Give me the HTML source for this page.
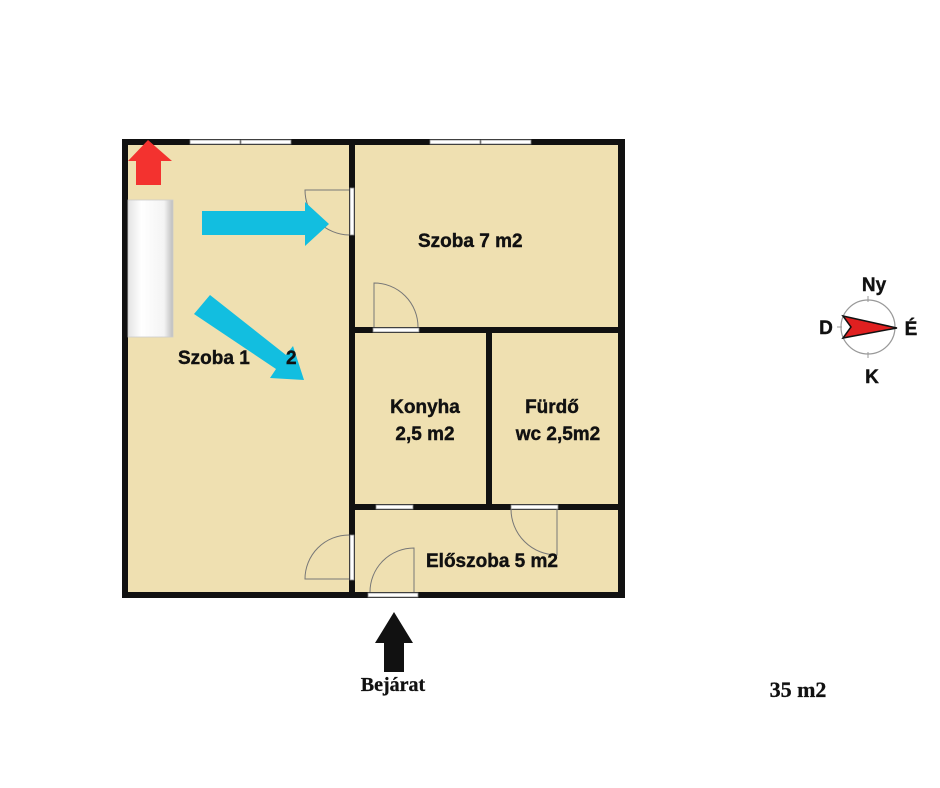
<!DOCTYPE html>
<html><head><meta charset="utf-8"><style>
html,body{margin:0;padding:0;background:#fff;}
svg{display:block;}
.t{font-family:"Liberation Sans",sans-serif;font-weight:bold;fill:#111;stroke:#111;stroke-width:0.4;}
.s{font-family:"Liberation Serif",serif;font-weight:bold;fill:#111;stroke:#111;stroke-width:0.3;}
</style></head><body>
<svg width="940" height="788" viewBox="0 0 940 788" xmlns="http://www.w3.org/2000/svg">
<defs>
<linearGradient id="rad" x1="0" x2="1" y1="0" y2="0">
<stop offset="0" stop-color="#e4e4e4"/><stop offset="0.3" stop-color="#ffffff"/><stop offset="0.8" stop-color="#f4f4f4"/><stop offset="1" stop-color="#bdbdbd"/>
</linearGradient>
</defs>
<rect x="122" y="139" width="502" height="459" fill="#efe0b1"/>
<g fill="#111">
<rect x="122" y="139" width="502" height="6"/>
<rect x="122" y="139" width="6" height="459"/>
<rect x="618" y="139" width="7" height="459"/>
<rect x="122" y="592" width="503" height="6"/>
<rect x="349" y="139" width="6" height="459"/>
<rect x="349" y="327" width="276" height="6"/>
<rect x="486" y="327" width="6" height="183"/>
<rect x="349" y="504" width="276" height="6"/>
</g>
<g fill="#fff" stroke="#888" stroke-width="0.8">
<rect x="190" y="140" width="50" height="4"/>
<rect x="241" y="140" width="50" height="4"/>
<rect x="430" y="140" width="50" height="4"/>
<rect x="481" y="140" width="50" height="4"/>
<rect x="350" y="188" width="4" height="47"/>
<rect x="373" y="328" width="46" height="4"/>
<rect x="376" y="505" width="37" height="4"/>
<rect x="511" y="505" width="47" height="4"/>
<rect x="350" y="535" width="4" height="45"/>
<rect x="368" y="593" width="50" height="4"/>
</g>
<g fill="none" stroke="#777" stroke-width="1">
<path d="M349 190 H305 A45 45 0 0 0 349 235"/>
<path d="M374 327 V283 A44 44 0 0 1 418 327"/>
<path d="M557 509 V555 A46 46 0 0 1 511 509"/>
<path d="M349 535 A44 44 0 0 0 305 579 H349"/>
<path d="M370 592 A44 44 0 0 1 414 548 V592"/>
</g>
<rect x="128" y="200" width="45" height="137" fill="url(#rad)" stroke="#ccc" stroke-width="0.8"/>
<polygon points="148,140 172,161 161,161 161,185 136,185 136,161 128,161" fill="#f3322f"/>
<polygon points="202,211 305,211 305,202 329,224 305,246 305,235 202,235" fill="#12bee0"/>
<polygon points="194,314 210,295 286,355 293,346 304,380 270,378 276,369" fill="#12bee0"/>
<text class="t" x="418" y="247" font-size="19">Szoba 7 m2</text>
<text class="t" x="178" y="364" font-size="19">Szoba 1</text>
<text class="t" x="286" y="364" font-size="19">2</text>
<text class="t" x="425" y="413" font-size="19" text-anchor="middle">Konyha</text>
<text class="t" x="425" y="440" font-size="19" text-anchor="middle">2,5 m2</text>
<text class="t" x="552" y="413" font-size="19" text-anchor="middle">Fürdő</text>
<text class="t" x="558" y="440" font-size="19" text-anchor="middle">wc 2,5m2</text>
<text class="t" x="426" y="567" font-size="19">Előszoba 5 m2</text>
<polygon points="394,612 413,643 404,643 404,672 384,672 384,643 375,643" fill="#111"/>
<text class="s" x="393" y="691" font-size="20" text-anchor="middle">Bejárat</text>
<text class="s" x="798" y="697" font-size="22" text-anchor="middle">35 m2</text>
<circle cx="868" cy="327" r="27" fill="#fff" stroke="#999" stroke-width="1.2"/>
<g stroke="#999" stroke-width="1"><line x1="868" y1="296" x2="868" y2="302"/><line x1="868" y1="352" x2="868" y2="358"/><line x1="837" y1="327" x2="842" y2="327"/></g>
<polygon points="843,316 897,328 843,338 851,327" fill="#e02020" stroke="#111" stroke-width="1.5"/>
<text class="t" x="874" y="291" font-size="19" text-anchor="middle">Ny</text>
<text class="t" x="826" y="334" font-size="19" text-anchor="middle">D</text>
<text class="t" x="911" y="335" font-size="19" text-anchor="middle">É</text>
<text class="t" x="872" y="383" font-size="19" text-anchor="middle">K</text>
</svg>
</body></html>
